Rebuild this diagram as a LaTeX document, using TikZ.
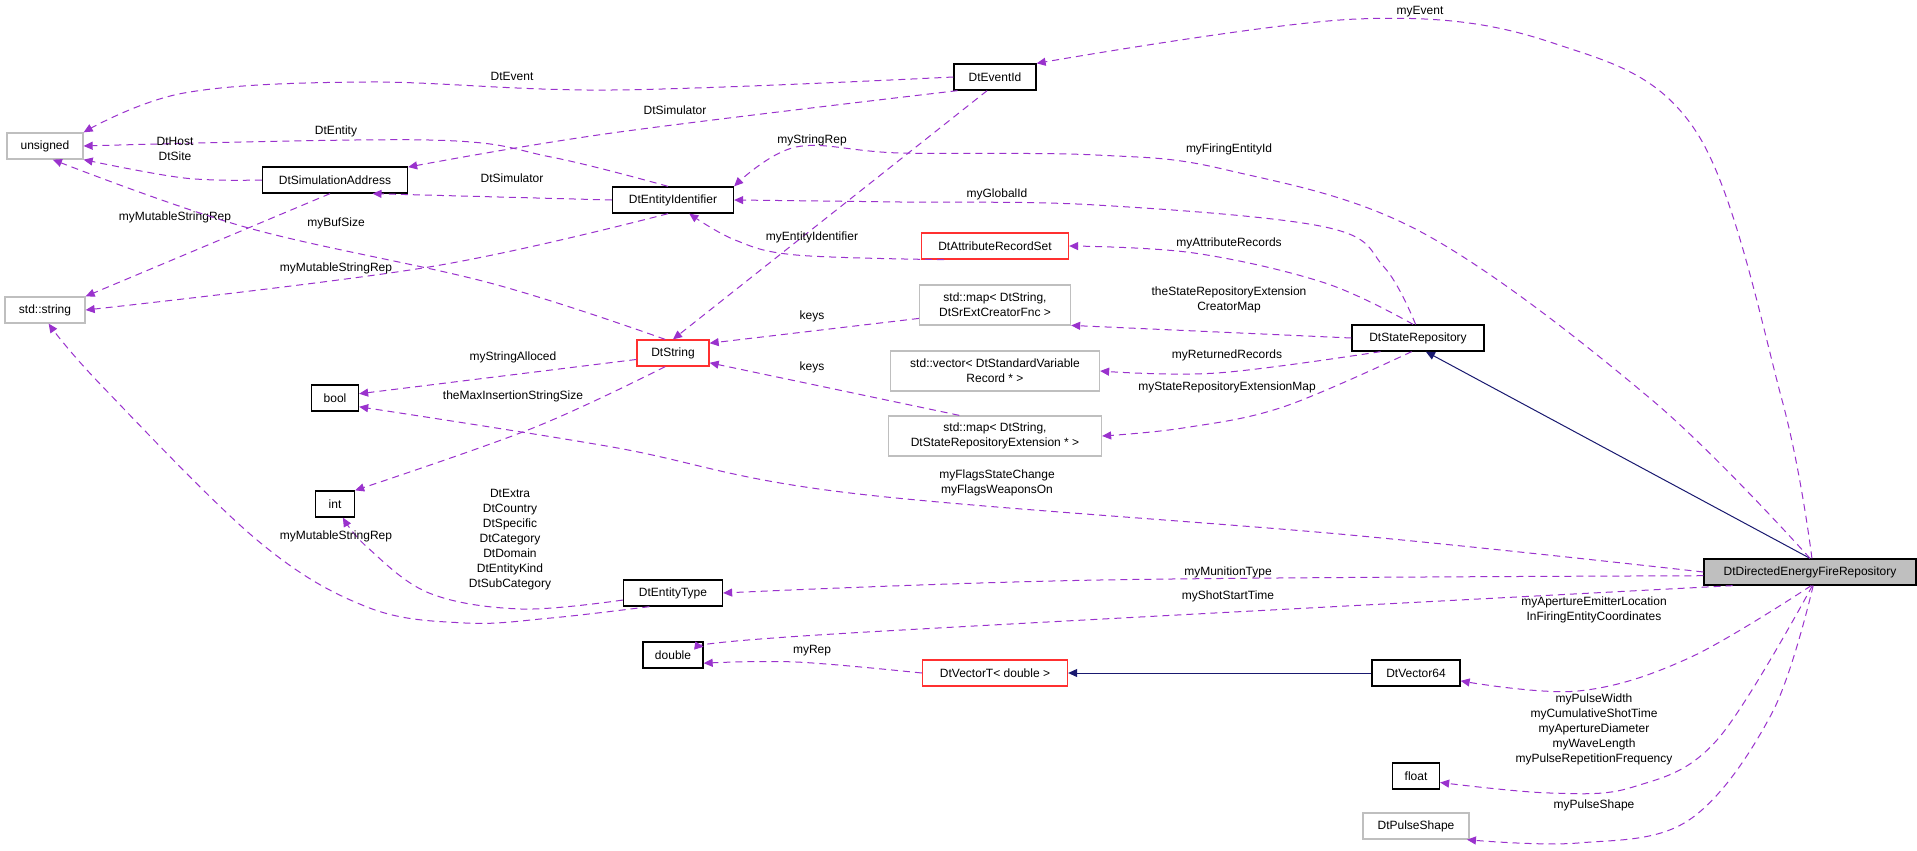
\documentclass[tikz,border=0pt]{standalone}
\usepackage{fontspec}
\setmainfont{Liberation Sans}
\usetikzlibrary{arrows.meta}
\definecolor{dep}{HTML}{9A32CD}
\definecolor{inh}{HTML}{191970}
\definecolor{gry}{HTML}{BFBFBF}
\definecolor{rd}{HTML}{FF3030}
\begin{document}
\begin{tikzpicture}[x=1pt,y=-1pt,
  every node/.style={font=\fontsize{12}{15}\selectfont, inner sep=0pt},
  box/.style={draw=black, line width=1.3pt, minimum height=26pt, align=center},
  gbox/.style={box, draw=gry},
  rbox/.style={box, draw=rd},
  dbox/.style={box, draw=gry, minimum height=40pt},
  lab/.style={align=center},
  dep/.style={draw=dep, line width=1pt, dash pattern=on 7pt off 5pt, -{Triangle[length=9pt,width=8pt,fill=dep]}},
  inh/.style={draw=inh, line width=1pt, -{Triangle[length=9pt,width=8pt,fill=inh]}},
  sm/.style={smooth, tension=0.6}]
\fill[white] (0,0) rectangle (1917,851);
% nodes
\node[gbox, minimum width=76pt] (unsigned) at (45,146) {unsigned};
\node[gbox, minimum width=80pt] (stdstring) at (45,310) {std::string};
\node[box, minimum width=145pt] (simaddr) at (335,180) {DtSimulationAddress};
\node[box, minimum width=47pt] (bool) at (335,398) {bool};
\node[box, minimum width=39pt] (int) at (335,504) {int};
\node[box, minimum width=121pt] (entid) at (673,200) {DtEntityIdentifier};
\node[rbox, minimum width=72pt] (dtstring) at (673,353) {DtString};
\node[box, minimum width=99pt] (enttype) at (673,593) {DtEntityType};
\node[box, minimum width=60pt] (double) at (673,655) {double};
\node[box, minimum width=82pt] (eventid) at (995,77) {DtEventId};
\node[rbox, minimum width=147pt] (attrset) at (995,246) {DtAttributeRecordSet};
\node[dbox, minimum width=151pt] (mapcr) at (995,305) {std::map< DtString,\\ DtSrExtCreatorFnc >};
\node[dbox, minimum width=209pt] (vecrec) at (995,371) {std::vector< DtStandardVariable\\Record * >};
\node[dbox, minimum width=213pt] (mapext) at (995,436) {std::map< DtString,\\ DtStateRepositoryExtension * >};
\node[rbox, minimum width=145pt] (vect) at (995,673) {DtVectorT< double >};
\node[box, minimum width=132pt] (staterep) at (1418,338) {DtStateRepository};
\node[box, minimum width=88pt] (vec64) at (1416,673) {DtVector64};
\node[box, minimum width=47pt] (float) at (1416,776) {float};
\node[gbox, minimum width=106pt] (pulse) at (1416,826) {DtPulseShape};
\node[box, fill=gry, minimum width=212pt] (defr) at (1810,572) {DtDirectedEnergyFireRepository};
% inheritance
\draw[inh] (defr.north) -- (staterep.-60);
\draw[inh] (vec64.west) -- (vect.east);
% dependencies
\draw[dep] plot[sm] coordinates {(eventid.west) (612,90) (367,82) (184,93) (unsigned.north east)};
\node[lab] at (512,76) {DtEvent};
\draw[dep] plot[sm] coordinates {(eventid.200) (612,133) (simaddr.10)};
\node[lab] at (675,110) {DtSimulator};
\draw[dep] plot[sm] coordinates {(entid.110) (551,157) (429,140) (unsigned.east)};
\node[lab] at (336,131) {DtEntity};
\draw[dep] plot[sm] coordinates {(simaddr.west) (184,178) (unsigned.south east)};
\node[lab] at (175,149) {DtHost\\DtSite};
\draw[dep] plot[sm] coordinates {(entid.west) (simaddr.-20)};
\node[lab] at (512,178) {DtSimulator};
\draw[dep] (simaddr.-110) -- (stdstring.north east);
\node[lab] at (175,217) {myMutableStringRep};
\draw[dep] plot[sm] coordinates {(entid.-110) (429,267) (stdstring.east)};
\node[lab] at (336,268) {myMutableStringRep};
\draw[dep] plot[sm] coordinates {(dtstring.120) (490,283) (245,227) (unsigned.-60)};
\node[lab] at (336,223) {myBufSize};
\draw[dep] (eventid.-120) -- (dtstring.north);
\node[lab] at (812,140) {myStringRep};
\draw[dep] plot[sm] coordinates {(attrset.-165) (796,255) (735,240) (entid.-40)};
\node[lab] at (812,237) {myEntityIdentifier};
\draw[dep] plot[sm] coordinates {(staterep.100) (1384,267) (1325,227) (1096,205) (900,202) (entid.east)};
\node[lab] at (997,194) {myGlobalId};
\draw[dep] plot[sm] coordinates {(defr.north) (1652,400) (1423,233) (1227,170) (1096,155) (900,153) (796,147) (entid.north east)};
\node[lab] at (1229,149) {myFiringEntityId};
\draw[dep] (mapcr.-170) -- (dtstring.15);
\node[lab] at (812,316) {keys};
\draw[dep] (mapext.150) -- (dtstring.-15);
\node[lab] at (812,367) {keys};
\draw[dep] (dtstring.-170) -- (bool.10);
\node[lab] at (513,357) {myStringAlloced};
\draw[dep] plot[sm] coordinates {(dtstring.-120) (533,428) (int.north east)};
\node[lab] at (513,396) {theMaxInsertionStringSize};
\draw[dep] plot[sm] coordinates {(defr.west) (1350,535) (850,493) (612,447) (bool.-20)};
\node[lab] at (997,483) {myFlagsStateChange\\myFlagsWeaponsOn};
\draw[dep] plot[sm] coordinates {(defr.-178) (1100,580) (enttype.east)};
\node[lab] at (1228,572) {myMunitionType};
\draw[dep] plot[sm] coordinates {(defr.-170) (850,633) (double.15)};
\node[lab] at (1228,596) {myShotStartTime};
\draw[dep] plot[sm] coordinates {(vect.west) (796,662) (double.-15)};
\node[lab] at (812,651) {myRep};
\draw[dep] plot[sm] coordinates {(enttype.-172) (521,609) (429,593) (367,547) (int.-60)};
\node[lab] at (510,540) {DtExtra\\DtCountry\\DtSpecific\\DtCategory\\DtDomain\\DtEntityKind\\DtSubCategory};
\draw[dep] plot[sm] coordinates {(enttype.-150) (551,618) (465,623) (367,607) (257,540) (101,385) (stdstring.-75)};
\node[lab] at (336,536) {myMutableStringRep};
\draw[dep] plot[sm] coordinates {(defr.-85) (1689,658) (1578,691) (vec64.-10)};
\node[lab] at (1594,610) {myApertureEmitterLocation\\InFiringEntityCoordinates};
\draw[dep] plot[sm] coordinates {(defr.-80) (1717,740) (1633,787) (1550,793) (float.-15)};
\node[lab] at (1594,729) {myPulseWidth\\myCumulativeShotTime\\myApertureDiameter\\myWaveLength\\myPulseRepetitionFrequency};
\draw[dep] plot[sm] coordinates {(defr.-77) (1772,713) (1689,820) (1578,843) (pulse.-15)};
\node[lab] at (1594,805) {myPulseShape};
\draw[dep] plot[sm] coordinates {(defr.82) (1782,400) (1697,133) (1553,43) (1357,19) (eventid.north east)};
\node[lab] at (1420,12) {myEvent};
\draw[dep] plot[sm] coordinates {(staterep.110) (1325,283) (1194,253) (attrset.east)};
\node[lab] at (1229,243) {myAttributeRecords};
\draw[dep] (staterep.west) -- (mapcr.-15);
\node[lab] at (1229,300) {theStateRepositoryExtension\\CreatorMap};
\draw[dep] plot[sm] coordinates {(staterep.-160) (1217,373) (vecrec.east)};
\node[lab] at (1227,355) {myReturnedRecords};
\draw[dep] plot[sm] coordinates {(staterep.-115) (1283,407) (1183,428) (mapext.east)};
\node[lab] at (1227,387) {myStateRepositoryExtensionMap};
\end{tikzpicture}
\end{document}
